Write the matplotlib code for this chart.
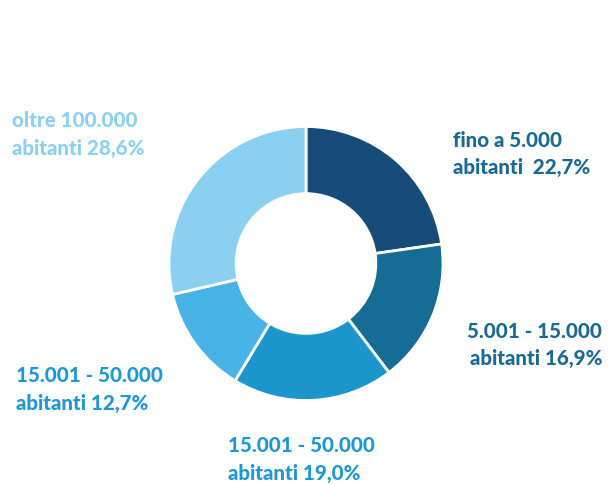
import matplotlib
matplotlib.use("Agg")
import matplotlib.pyplot as plt

categories = ["fino a 5.000\nabitanti  22,7%",
              "5.001 - 15.000\nabitanti 16,9%",
              "15.001 - 50.000\nabitanti 19,0%",
              "15.001 - 50.000\nabitanti 12,7%",
              "oltre 100.000\nabitanti 28,6%"]
values = [22.7, 16.9, 19.0, 12.7, 28.6]
colors = ["#174B7A", "#156C94", "#1C96CD", "#48B3E6", "#8BD0F0"]
text_colors = ["#1A6A93", "#1A6A93", "#1F97D2", "#1F97D2", "#8BD0F0"]

W, H = 616, 484
fig = plt.figure(figsize=(W / 100, H / 100), dpi=100)
ax = fig.add_axes([0, 0, 1, 1])

cx, cy, R = 306, H - 263.5, 137
ax.pie(values, colors=colors, startangle=90, counterclock=False,
       center=(cx, cy), radius=R, frame=True,
       wedgeprops=dict(width=R * 0.49, edgecolor="white", linewidth=2))
ax.set_xlim(0, W)
ax.set_ylim(0, H)
ax.set_aspect("equal")
ax.axis("off")

# label placements: (x, baseline1, baseline2) in pixels from top
label_pos = [(453, 147, 174), (467, 338, 365), (228, 452, 480),
             (16, 382, 410), (12, 127, 155)]
line2_dx = [0, 3, 0, 0, 0]
for lab, col, (x, b1, b2), dx in zip(categories, text_colors, label_pos, line2_dx):
    l1, l2 = lab.split("\n")
    ax.text(x, H - b1, l1, color=col, fontsize=14.8, fontweight="black",
            family="Lato", ha="left", va="baseline")
    ax.text(x + dx, H - b2, l2, color=col, fontsize=14.8, fontweight="black",
            family="Lato", ha="left", va="baseline")

fig.savefig("out.png", dpi=100)
